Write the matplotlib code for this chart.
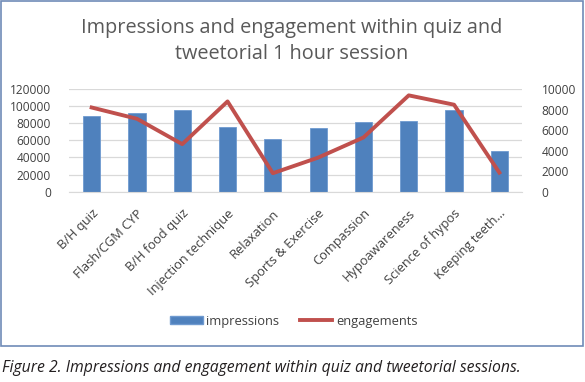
import matplotlib
matplotlib.use("Agg")
import matplotlib.pyplot as plt
from matplotlib.patches import Rectangle
from matplotlib.lines import Line2D
from matplotlib.patches import Patch
import numpy as np

plt.rcParams['font.family'] = ['Open Sans', 'DejaVu Sans']

categories = ["B/H quiz", "Flash/CGM CYP", "B/H food quiz", "Injection technique",
              "Relaxation", "Sports & Exercise", "Compassion", "Hypoawareness",
              "Science of hypos", "Keeping teeth\u2026"]
impressions = [88000, 92000, 95000, 76000, 62000, 74000, 81000, 83000, 96000, 47000]
engagements = [8200, 7100, 4630, 8790, 1800, 3320, 5280, 9380, 8470, 1860]
left_ticks = [0, 20000, 40000, 60000, 80000, 100000, 120000]
right_ticks = [0, 2000, 4000, 6000, 8000, 10000]

W, H = 585, 382
fig = plt.figure(figsize=(W / 100, H / 100), dpi=100)

# chart border
fig.patches.append(Rectangle((1 / W, 1 - 346 / H), 582 / W, 345 / H, transform=fig.transFigure,
                             fill=False, edgecolor="#6f8bb8", linewidth=1.2))

ax = fig.add_axes([69 / W, 1 - 191.7 / H, 453 / W, 102.7 / H])
x = np.arange(len(categories))
ax.bar(x, impressions, width=0.38, color="#4f81bd", edgecolor="#6f9ad0", linewidth=0.6, zorder=2)
ax.set_xlim(-0.5, len(categories) - 0.5)
ax.set_ylim(0, 120000)
ax.set_yticks(left_ticks)
ax.set_yticklabels([str(v) for v in left_ticks])
ax.grid(axis='y', color="#d9d9d9", linewidth=0.9, zorder=0)
for s in ['top', 'right', 'left']:
    ax.spines[s].set_visible(False)
ax.spines['bottom'].set_color("#d9d9d9")
ax.tick_params(axis='both', length=0, labelcolor="#404040")
ax.tick_params(axis='y', pad=13, labelsize=8.6)
ax.set_xticks(x)
ax.set_xticklabels(categories, rotation=45, ha='right', rotation_mode='anchor')
ax.tick_params(axis='x', pad=11, labelsize=9.3)

ax2 = ax.twinx()
ax2.plot(x, engagements, color="#c0504d", linewidth=2.8, zorder=3)
ax2.set_ylim(0, 10000)
ax2.set_yticks(right_ticks)
ax2.set_yticklabels([str(v) for v in right_ticks])
for s in ax2.spines.values():
    s.set_visible(False)
ax2.tick_params(axis='y', length=0, labelsize=8.6, labelcolor="#404040", pad=14)

fig.text(292 / W, 1 - 41 / H, "Impressions and engagement within quiz and\ntweetorial 1 hour session",
         ha='center', va='center', fontsize=14.3, color="#595959", linespacing=1.4)

handles = [Patch(facecolor="#4f81bd", edgecolor="#6f9ad0"),
           Line2D([0], [0], color="#c0504d", linewidth=2.8)]
fig.legend(handles, ["impressions", "engagements"], loc='center', bbox_to_anchor=(294 / W, 1 - 321 / H),
           ncol=2, frameon=False, fontsize=9.3, handlelength=2.5, handleheight=0.6,
           columnspacing=1.6, handletextpad=0.3, labelcolor="#404040")

fig.text(2 / W, 1 - 368 / H, "Figure 2. Impressions and engagement within quiz and tweetorial sessions.",
         ha='left', va='center', fontsize=11.3, style='italic', color="#231f20")

fig.savefig("out.png", dpi=100)
